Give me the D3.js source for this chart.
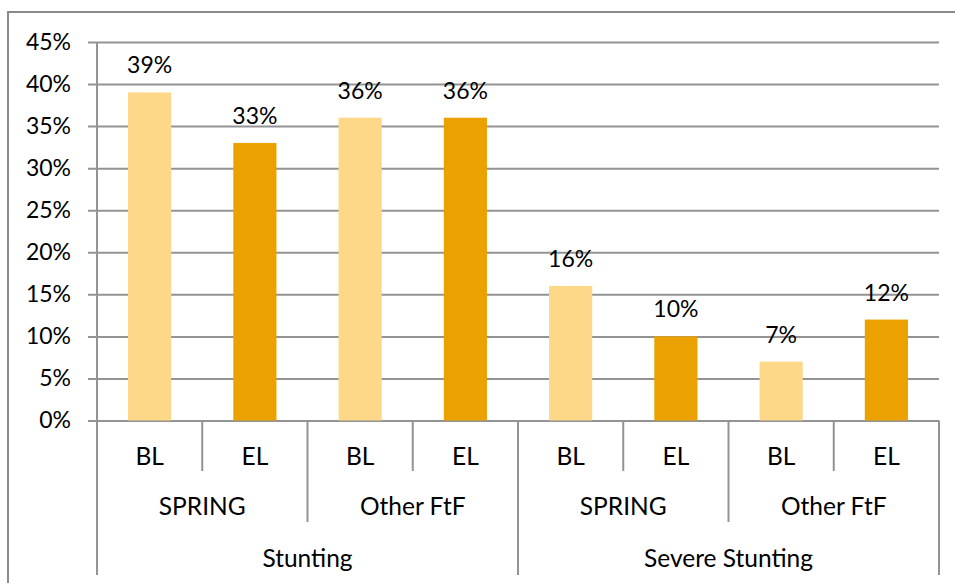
<!DOCTYPE html>
<html>
<head>
<meta charset="utf-8">
<script src="https://cdn.jsdelivr.net/npm/d3@7"></script>
<style>
  html, body { margin: 0; padding: 0; background: #fff; }
  svg text { font-family: Lato, "Open Sans", sans-serif; fill: #000; }
</style>
</head>
<body>
<svg id="chart" width="955" height="583"></svg>
<script>
// Indicator groups, programme groups and survey rounds
const indicators = ["Stunting", "Severe Stunting"];
const programmes = ["SPRING", "Other FtF"];
const rounds = ["BL", "EL"];
// Prevalence (%) in order: indicator > programme > round
const values = [39, 33, 36, 36, 16, 10, 7, 12];
const yTicks = [0, 5, 10, 15, 20, 25, 30, 35, 40, 45];
const roundColors = { BL: "#FDD888", EL: "#EBA200" };

(function () {
  const svg = d3.select("#chart");
  const plotLeft = 97, plotRight = 939, plotTop = 42, plotBottom = 420.5;
  const gridColor = "#939393";
  const numSize = 23;    // numeric labels
  const wordSize = 24.5; // category labels

  // Flattened leaf categories
  const leaves = [];
  indicators.forEach(ind => programmes.forEach(pr => rounds.forEach(r =>
    leaves.push({ ind, pr, r, key: ind + "|" + pr + "|" + r }))));
  leaves.forEach((d, i) => d.value = values[i]);

  const x = d3.scaleBand().domain(leaves.map(d => d.key)).range([plotLeft, plotRight])
    .paddingInner(0.59).paddingOuter(0.295);
  const xStep = d3.scaleBand().domain(leaves.map(d => d.key)).range([plotLeft, plotRight]);
  const y = d3.scaleLinear().domain([0, 45]).range([plotBottom, plotTop]);

  // Outer frame
  svg.append("rect").attr("x", 8).attr("y", 12).attr("width", 960).attr("height", 590)
    .attr("fill", "none").attr("stroke", "#8a8a8a").attr("stroke-width", 2);

  // Gridlines (with short outer ticks) and y axis labels
  const tickOut = 9;
  const yAxis = d3.axisLeft(y).tickValues(yTicks).tickFormat(d => d + "%")
    .tickSize(0).tickPadding(tickOut + 17);
  const gy = svg.append("g").attr("transform", `translate(${plotLeft},0)`).call(yAxis);
  gy.select(".domain").remove();
  gy.selectAll(".tick line")
    .attr("x1", -tickOut).attr("x2", plotRight - plotLeft)
    .attr("stroke", gridColor).attr("stroke-width", 2);
  gy.selectAll(".tick text").attr("font-size", numSize).attr("fill", "#000");

  // Vertical value axis line
  svg.append("line").attr("x1", plotLeft).attr("x2", plotLeft).attr("y1", plotTop).attr("y2", plotBottom)
    .attr("stroke", gridColor).attr("stroke-width", 2);

  // Bars
  svg.append("g").selectAll("rect").data(leaves).join("rect")
    .attr("x", d => x(d.key)).attr("width", x.bandwidth())
    .attr("y", d => y(d.value)).attr("height", d => y(0) - y(d.value))
    .attr("fill", d => roundColors[d.r]);

  // Value labels
  svg.append("g").selectAll("text").data(leaves).join("text")
    .attr("x", d => x(d.key) + x.bandwidth() / 2).attr("y", d => y(d.value) - 19)
    .attr("text-anchor", "middle").attr("font-size", numSize)
    .text(d => d.value + "%");

  // Multi-level category axis
  const step = xStep.step();
  const tiers = [
    { y1: 471, labelY: 456 },
    { y1: 522, labelY: 506 },
    { y1: 575, labelY: 558 }
  ];
  const axisG = svg.append("g");
  // Round tier
  leaves.forEach(d => {
    axisG.append("text").attr("x", xStep(d.key) + step / 2).attr("y", tiers[0].labelY)
      .attr("dy", "0.35em").attr("text-anchor", "middle").attr("font-size", wordSize).text(d.r);
  });
  // Programme tier
  const progGroups = [];
  indicators.forEach(ind => programmes.forEach(pr => progGroups.push({ ind, pr })));
  progGroups.forEach((g, i) => {
    const x0 = xStep(leaves[i * 2].key), x1 = x0 + step * 2;
    axisG.append("text").attr("x", (x0 + x1) / 2).attr("y", tiers[1].labelY)
      .attr("dy", "0.35em").attr("text-anchor", "middle").attr("font-size", wordSize).text(g.pr);
  });
  // Indicator tier
  indicators.forEach((ind, i) => {
    const x0 = xStep(leaves[i * 4].key), x1 = x0 + step * 4;
    axisG.append("text").attr("x", (x0 + x1) / 2).attr("y", tiers[2].labelY)
      .attr("dy", "0.35em").attr("text-anchor", "middle").attr("font-size", wordSize).text(ind);
  });
  // Separator lines: deeper at programme and indicator boundaries
  for (let i = 0; i <= leaves.length; i++) {
    const xx = i === leaves.length ? plotRight : xStep(leaves[i].key);
    let y1 = tiers[0].y1;
    if (i % 2 === 0) y1 = tiers[1].y1;
    if (i % 4 === 0) y1 = tiers[2].y1;
    axisG.append("line").attr("x1", xx).attr("x2", xx).attr("y1", plotBottom).attr("y2", y1)
      .attr("stroke", gridColor).attr("stroke-width", 2);
  }
})();
</script>
</body>
</html>
